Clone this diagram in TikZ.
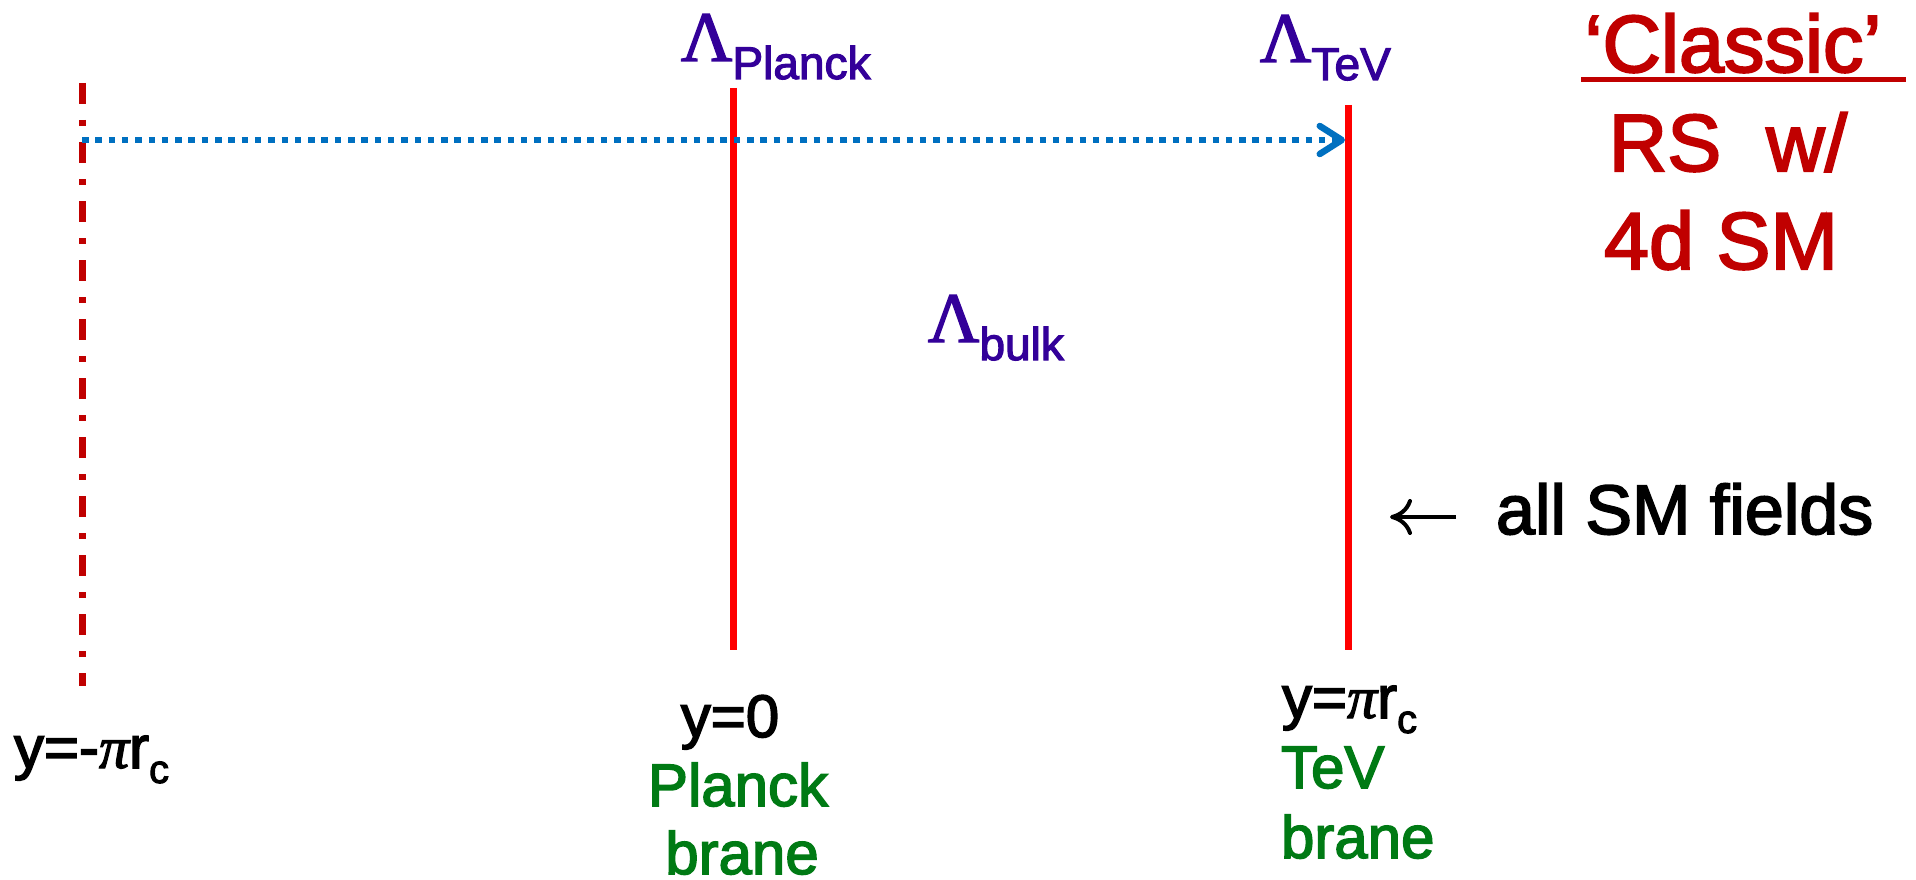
\documentclass[tikz,border=0pt]{standalone}
\usepackage{fontspec}
\setmainfont{Liberation Sans}[FakeBold=2.5]
\newfontfamily\lserif{Liberation Serif}[FakeBold=2]
\usetikzlibrary{arrows.meta}
\definecolor{lampurple}{RGB}{51,0,153}
\definecolor{darkred}{RGB}{192,0,0}
\definecolor{branered}{RGB}{255,0,0}
\definecolor{arrowblue}{RGB}{0,112,192}
\definecolor{branegreen}{RGB}{0,122,20}
\newcommand{\fsz}[1]{\fontsize{#1}{#1}\selectfont}
\newcommand{\Lam}[1]{{\lserif\fsz{71}Λ}\raisebox{-18pt}{\fsz{46}#1}}
\newcommand{\rsub}{\raisebox{-15pt}{\fsz{40}c}}
\begin{document}
\begin{tikzpicture}[x=1pt,y=-1pt, inner sep=0pt, outer sep=0pt,
  brane/.style={draw=branered, line width=7pt},
  mirror/.style={draw=darkred, line width=7pt, dash pattern=on 21pt off 16pt on 6pt off 16pt},
  flow/.style={draw=arrowblue, line width=6.5pt, dash pattern=on 6.5pt off 6.8pt,
    -{Straight Barb[length=22pt,width=28pt,round]}},
  smarrowstyle/.style={draw=black, line width=4pt,
    -{Computer Modern Rightarrow[length=22pt,width=36pt,line width=4pt]}},
  lamlabel/.style={text=lampurple, anchor=base west},
  ylabel/.style={font=\fsz{60}, text=black},
  greenlabel/.style={font=\fsz{60}, text=branegreen},
  titletext/.style={font=\fsz{81}, text=darkred, anchor=base},
  ulline/.style={draw=darkred, line width=5pt}]
\useasboundingbox (0,0) rectangle (1916,880);
% lines
\coordinate (mtop) at (82,83);
\coordinate (mbot) at (82,686);
\coordinate (ptop) at (733,88);
\coordinate (pbot) at (733,650);
\coordinate (ttop) at (1348,105);
\coordinate (tbot) at (1348,650);
\draw[mirror] (mtop) -- (mbot);
\draw[brane] (ptop) -- (pbot);
\draw[brane] (ttop) -- (tbot);
\coordinate (astart) at (82,140);
\coordinate (aend) at (1345,140);
\draw[flow] (astart) -- (aend);
% lambda labels
\node[lamlabel] (lplanck) at (681,61) {\Lam{Planck}};
\node[lamlabel] (ltev) at (1260,62) {\Lam{TeV}};
\node[lamlabel] (lbulk) at (928,342) {\Lam{bulk}};
% title
\node[titletext] (classic) at (1733,72) {‘Classic’};
\coordinate (ull) at (1581,80);
\coordinate (ulr) at (1906,80);
\draw[ulline] (ull) -- (ulr);
\node[titletext] (rsw) at (1728,171) {RS\ \ w/};
\node[titletext] (sm4d) at (1721,269) {4d SM};
% SM fields
\node[anchor=base west, font=\fsz{70}] (smfields) at (1496,534) {all SM fields};
\coordinate (smtail) at (1456,517);
\coordinate (smhead) at (1390,517);
\draw[smarrowstyle] (smtail) -- (smhead);
% y labels
\node[ylabel, anchor=base west] (ymin) at (14,768) {y=-{\lserif\itshape π}r\rsub};
\node[ylabel, anchor=base] (yzero) at (730,737) {y=0};
\node[greenlabel, anchor=base] (planck) at (738,806) {Planck};
\node[greenlabel, anchor=base] (pbrane) at (742,874) {brane};
\node[ylabel, anchor=base west] (ypi) at (1282,718) {y={\lserif\itshape π}r\rsub};
\node[greenlabel, anchor=base west] (tev) at (1281,788) {TeV};
\node[greenlabel, anchor=base west] (tbrane) at (1281,858) {brane};
\end{tikzpicture}
\end{document}
